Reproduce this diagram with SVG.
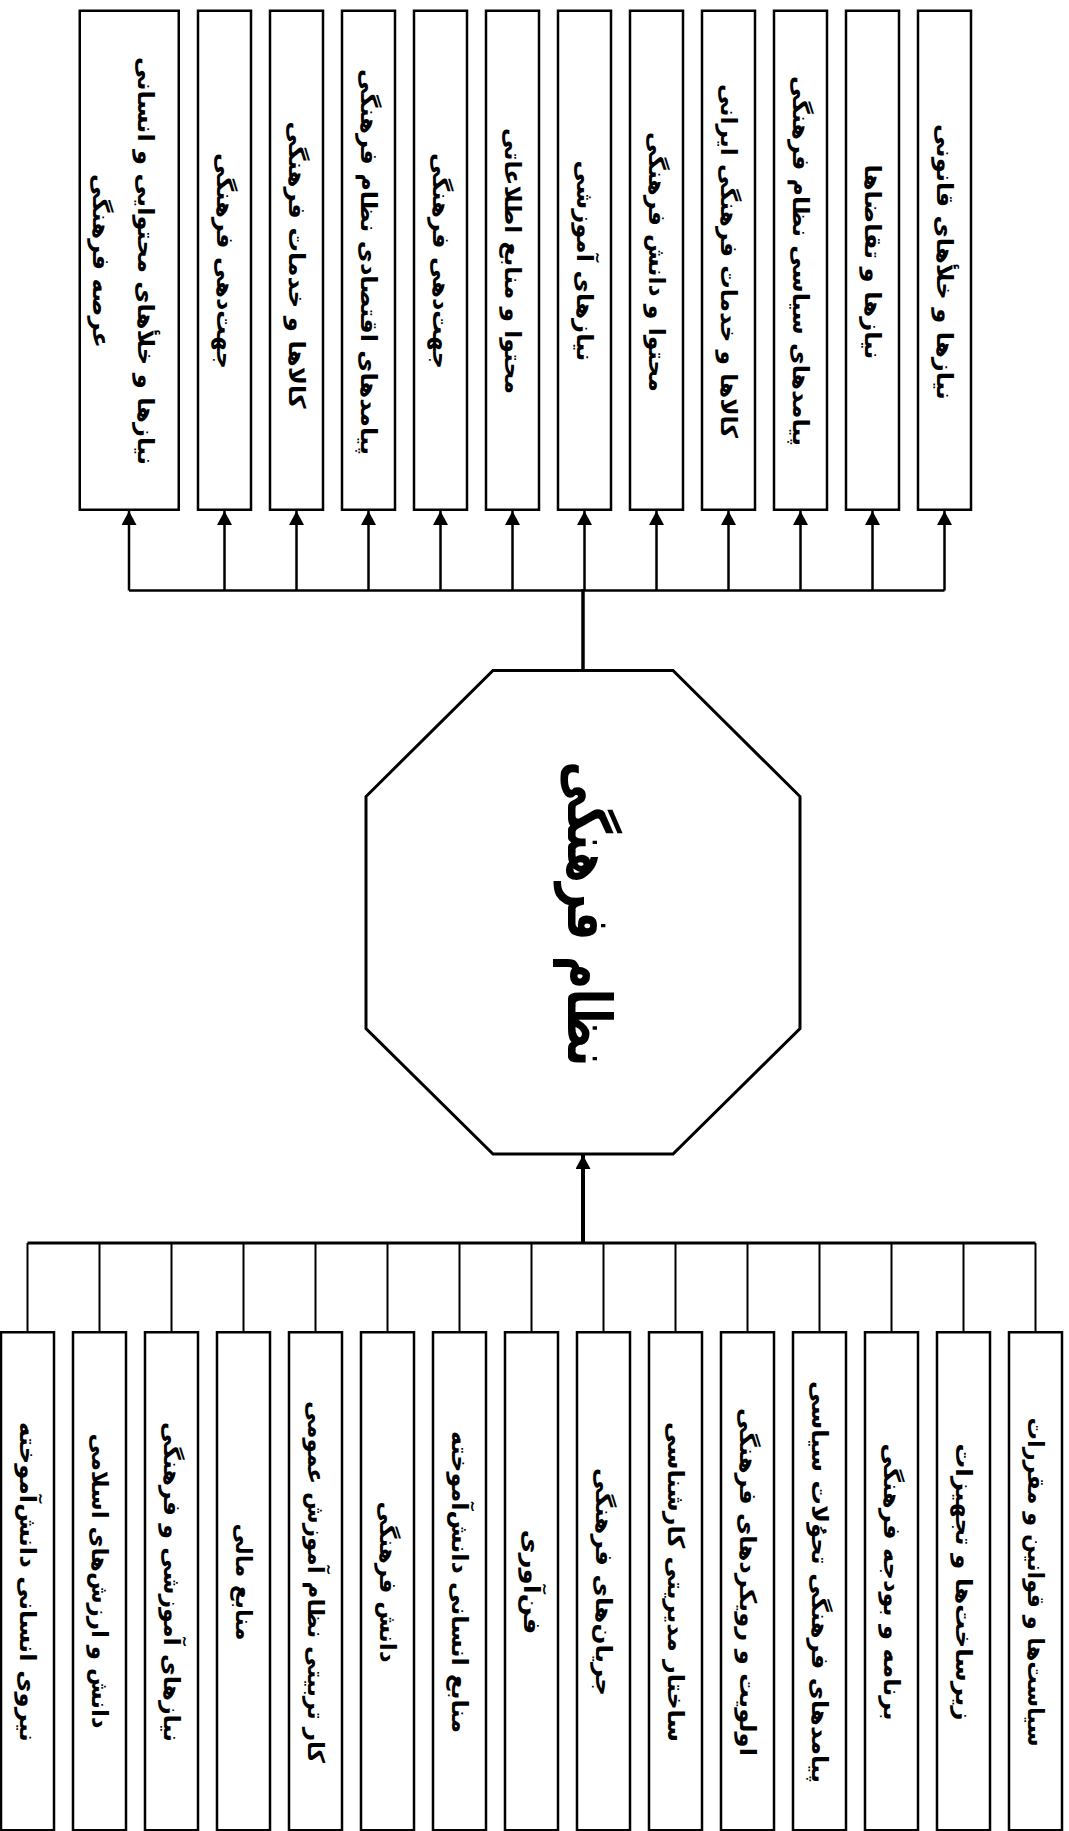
<svg xmlns="http://www.w3.org/2000/svg" width="1069" height="1831" viewBox="0 0 1069 1831">
<style>
.box{fill:#fff;stroke:#000;stroke-width:2.5}
.oct{fill:#fff;stroke:#000;stroke-width:3}
.t{font-family:"DejaVu Sans",sans-serif;font-weight:bold;font-size:23px;fill:#000;text-anchor:middle;dominant-baseline:central}
.title{font-family:"DejaVu Sans",sans-serif;font-weight:bold;font-size:60px;fill:#000;text-anchor:middle;dominant-baseline:central}
.c{stroke:#000;fill:none}
</style>
<defs>
<marker id="ah" markerUnits="userSpaceOnUse" markerWidth="16" markerHeight="16" refX="14" refY="7.5" orient="auto" viewBox="0 0 16 16">
<path d="M0,0 L14,7.5 L0,15 z" fill="#000"/>
</marker>
</defs>
<rect width="1069" height="1831" fill="#fff"/>
<g id="connectors">
<line class="c" stroke-width="2.7" x1="129" y1="590.5" x2="944.5" y2="590.5"/>
<line class="c" stroke-width="3.5" x1="583" y1="589" x2="583" y2="670.5"/>
<line class="c" stroke-width="2.5" x1="129" y1="590.5" x2="129" y2="511" marker-end="url(#ah)"/>
<line class="c" stroke-width="2.5" x1="224.5" y1="590.5" x2="224.5" y2="511" marker-end="url(#ah)"/>
<line class="c" stroke-width="2.5" x1="296.5" y1="590.5" x2="296.5" y2="511" marker-end="url(#ah)"/>
<line class="c" stroke-width="2.5" x1="368.5" y1="590.5" x2="368.5" y2="511" marker-end="url(#ah)"/>
<line class="c" stroke-width="2.5" x1="440.5" y1="590.5" x2="440.5" y2="511" marker-end="url(#ah)"/>
<line class="c" stroke-width="2.5" x1="512.5" y1="590.5" x2="512.5" y2="511" marker-end="url(#ah)"/>
<line class="c" stroke-width="2.5" x1="584.5" y1="590.5" x2="584.5" y2="511" marker-end="url(#ah)"/>
<line class="c" stroke-width="2.5" x1="656.5" y1="590.5" x2="656.5" y2="511" marker-end="url(#ah)"/>
<line class="c" stroke-width="2.5" x1="728.5" y1="590.5" x2="728.5" y2="511" marker-end="url(#ah)"/>
<line class="c" stroke-width="2.5" x1="800.5" y1="590.5" x2="800.5" y2="511" marker-end="url(#ah)"/>
<line class="c" stroke-width="2.5" x1="872.5" y1="590.5" x2="872.5" y2="511" marker-end="url(#ah)"/>
<line class="c" stroke-width="2.5" x1="944.5" y1="590.5" x2="944.5" y2="511" marker-end="url(#ah)"/>
<line class="c" stroke-width="3" x1="27.5" y1="1243" x2="1035.5" y2="1243"/>
<line class="c" stroke-width="4" x1="583" y1="1244" x2="583" y2="1155" marker-end="url(#ah)"/>
<line class="c" stroke-width="2" x1="27.5" y1="1243" x2="27.5" y2="1331"/>
<line class="c" stroke-width="2" x1="99.5" y1="1243" x2="99.5" y2="1331"/>
<line class="c" stroke-width="2" x1="171.5" y1="1243" x2="171.5" y2="1331"/>
<line class="c" stroke-width="2" x1="243.5" y1="1243" x2="243.5" y2="1331"/>
<line class="c" stroke-width="2" x1="315.5" y1="1243" x2="315.5" y2="1331"/>
<line class="c" stroke-width="2" x1="387.5" y1="1243" x2="387.5" y2="1331"/>
<line class="c" stroke-width="2" x1="459.5" y1="1243" x2="459.5" y2="1331"/>
<line class="c" stroke-width="2" x1="531.5" y1="1243" x2="531.5" y2="1331"/>
<line class="c" stroke-width="2" x1="603.5" y1="1243" x2="603.5" y2="1331"/>
<line class="c" stroke-width="2" x1="675.5" y1="1243" x2="675.5" y2="1331"/>
<line class="c" stroke-width="2" x1="747.5" y1="1243" x2="747.5" y2="1331"/>
<line class="c" stroke-width="2" x1="819.5" y1="1243" x2="819.5" y2="1331"/>
<line class="c" stroke-width="2" x1="891.5" y1="1243" x2="891.5" y2="1331"/>
<line class="c" stroke-width="2" x1="963.5" y1="1243" x2="963.5" y2="1331"/>
<line class="c" stroke-width="2" x1="1035.5" y1="1243" x2="1035.5" y2="1331"/>
</g>
<g id="center">
<polygon class="oct" points="493,670.5 673,670.5 800,796.5 800,1028.5 673,1154 493,1154 366,1028.5 366,796.5"/>
<text class="title" transform="translate(589,914) rotate(90)" textLength="305" lengthAdjust="spacingAndGlyphs">نظام فرهنگی</text>
</g>
<g id="top1"><rect class="box" x="79.75" y="10.75" width="99" height="499"/>
<text class="t" transform="translate(146,261) rotate(90)" textLength="408" lengthAdjust="spacingAndGlyphs">نیازها و خلأهای محتوایی و انسانی</text>
<text class="t" transform="translate(101,261) rotate(90)" textLength="174" lengthAdjust="spacingAndGlyphs">عرصه فرهنگی</text></g>
<g id="top2"><rect class="box" x="198" y="10.75" width="53" height="499"/><text class="t" transform="translate(224.5,261) rotate(90)" textLength="216" lengthAdjust="spacingAndGlyphs">جهت‌دهی فرهنگی</text></g>
<g id="top3"><rect class="box" x="270" y="10.75" width="53" height="499"/><text class="t" transform="translate(296.5,265) rotate(90)" textLength="287" lengthAdjust="spacingAndGlyphs">کالاها و خدمات فرهنگی</text></g>
<g id="top4"><rect class="box" x="342" y="10.75" width="53" height="499"/><text class="t" transform="translate(368.5,262) rotate(90)" textLength="386" lengthAdjust="spacingAndGlyphs">پیامدهای اقتصادی نظام فرهنگی</text></g>
<g id="top5"><rect class="box" x="414" y="10.75" width="53" height="499"/><text class="t" transform="translate(440.5,261) rotate(90)" textLength="216" lengthAdjust="spacingAndGlyphs">جهت‌دهی فرهنگی</text></g>
<g id="top6"><rect class="box" x="486" y="10.75" width="53" height="499"/><text class="t" transform="translate(512.5,261) rotate(90)" textLength="266" lengthAdjust="spacingAndGlyphs">محتوا و منابع اطلاعاتی</text></g>
<g id="top7"><rect class="box" x="558" y="10.75" width="53" height="499"/><text class="t" transform="translate(584.5,261) rotate(90)" textLength="201" lengthAdjust="spacingAndGlyphs">نیازهای آموزشی</text></g>
<g id="top8"><rect class="box" x="630" y="10.75" width="53" height="499"/><text class="t" transform="translate(656.5,262) rotate(90)" textLength="260" lengthAdjust="spacingAndGlyphs">محتوا و دانش فرهنگی</text></g>
<g id="top9"><rect class="box" x="702" y="10.75" width="53" height="499"/><text class="t" transform="translate(728.5,261) rotate(90)" textLength="354" lengthAdjust="spacingAndGlyphs">کالاها و خدمات فرهنگی ایرانی</text></g>
<g id="top10"><rect class="box" x="774" y="10.75" width="53" height="499"/><text class="t" transform="translate(800.5,261) rotate(90)" textLength="370" lengthAdjust="spacingAndGlyphs">پیامدهای سیاسی نظام فرهنگی</text></g>
<g id="top11"><rect class="box" x="846" y="10.75" width="53" height="499"/><text class="t" transform="translate(872.5,262) rotate(90)" textLength="195" lengthAdjust="spacingAndGlyphs">نیازها و تقاضاها</text></g>
<g id="top12"><rect class="box" x="918" y="10.75" width="53" height="499"/><text class="t" transform="translate(944.5,262) rotate(90)" textLength="276" lengthAdjust="spacingAndGlyphs">نیازها و خلأهای قانونی</text></g>
<g id="bot1"><rect class="box" x="1" y="1332.25" width="53" height="498"/><text class="t" transform="translate(27.5,1582) rotate(90)" textLength="320" lengthAdjust="spacingAndGlyphs">نیروی انسانی دانش‌آموخته</text></g>
<g id="bot2"><rect class="box" x="73" y="1332.25" width="53" height="498"/><text class="t" transform="translate(99.5,1581) rotate(90)" textLength="295" lengthAdjust="spacingAndGlyphs">دانش و ارزش‌های اسلامی</text></g>
<g id="bot3"><rect class="box" x="145" y="1332.25" width="53" height="498"/><text class="t" transform="translate(171.5,1582) rotate(90)" textLength="320" lengthAdjust="spacingAndGlyphs">نیازهای آموزشی و فرهنگی</text></g>
<g id="bot4"><rect class="box" x="217" y="1332.25" width="53" height="498"/><text class="t" transform="translate(243.5,1582) rotate(90)" textLength="117" lengthAdjust="spacingAndGlyphs">منابع مالی</text></g>
<g id="bot5"><rect class="box" x="289" y="1332.25" width="53" height="498"/><text class="t" transform="translate(315.5,1582) rotate(90)" textLength="362" lengthAdjust="spacingAndGlyphs">کار تربیتی نظام آموزش عمومی</text></g>
<g id="bot6"><rect class="box" x="361" y="1332.25" width="53" height="498"/><text class="t" transform="translate(387.5,1582) rotate(90)" textLength="161" lengthAdjust="spacingAndGlyphs">دانش فرهنگی</text></g>
<g id="bot7"><rect class="box" x="433" y="1332.25" width="53" height="498"/><text class="t" transform="translate(459.5,1582) rotate(90)" textLength="302" lengthAdjust="spacingAndGlyphs">منابع انسانی دانش‌آموخته</text></g>
<g id="bot8"><rect class="box" x="505" y="1332.25" width="53" height="498"/><text class="t" transform="translate(531.5,1582) rotate(90)" textLength="105" lengthAdjust="spacingAndGlyphs">فن‌آوری</text></g>
<g id="bot9"><rect class="box" x="577" y="1332.25" width="53" height="498"/><text class="t" transform="translate(603.5,1582) rotate(90)" textLength="228" lengthAdjust="spacingAndGlyphs">جریان‌های فرهنگی</text></g>
<g id="bot10"><rect class="box" x="649" y="1332.25" width="53" height="498"/><text class="t" transform="translate(675.5,1582) rotate(90)" textLength="320" lengthAdjust="spacingAndGlyphs">ساختار مدیریتی کارشناسی</text></g>
<g id="bot11"><rect class="box" x="721" y="1332.25" width="53" height="498"/><text class="t" transform="translate(747.5,1582) rotate(90)" textLength="348" lengthAdjust="spacingAndGlyphs">اولویت و رویکردهای فرهنگی</text></g>
<g id="bot12"><rect class="box" x="793" y="1332.25" width="53" height="498"/><text class="t" transform="translate(819.5,1582) rotate(90)" textLength="402" lengthAdjust="spacingAndGlyphs">پیامدهای فرهنگی تحوُلات سیاسی</text></g>
<g id="bot13"><rect class="box" x="865" y="1332.25" width="53" height="498"/><text class="t" transform="translate(891.5,1582) rotate(90)" textLength="277" lengthAdjust="spacingAndGlyphs">برنامه و بودجه فرهنگی</text></g>
<g id="bot14"><rect class="box" x="937" y="1332.25" width="53" height="498"/><text class="t" transform="translate(963.5,1582) rotate(90)" textLength="277" lengthAdjust="spacingAndGlyphs">زیرساخت‌ها و تجهیزات</text></g>
<g id="bot15"><rect class="box" x="1009" y="1332.25" width="53" height="498"/><text class="t" transform="translate(1035.5,1582) rotate(90)" textLength="329" lengthAdjust="spacingAndGlyphs">سیاست‌ها و قوانین و مقررات</text></g>
</svg>
